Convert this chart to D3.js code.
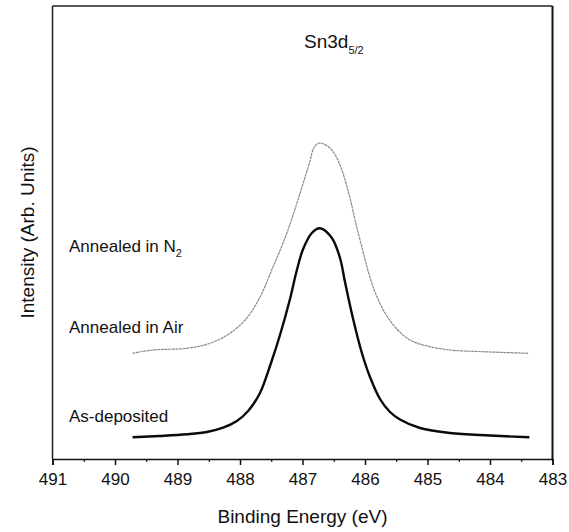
<!DOCTYPE html>
<html>
<head>
<meta charset="utf-8">
<script src="https://cdn.jsdelivr.net/npm/d3@7"></script>
<style>
  body { margin: 0; background: #fff; }
  svg { font-family: "Liberation Sans", Arial, sans-serif; }
</style>
</head>
<body>
<svg id="canvas" width="569" height="532"></svg>
<script>
// binding energy (eV)
let asDepEnergy = [489.72, 489.28, 488.85, 488.53, 488.27, 488.05, 487.87, 487.68, 487.52, 487.36, 487.20, 487.09, 486.99, 486.85, 486.72, 486.53, 486.40, 486.32, 486.19, 486.05, 485.92, 485.76, 485.60, 485.44, 485.12, 484.64, 484.00, 483.37]
let asDepIntensity = [21.7, 23, 24.7, 27, 31.3, 38, 48, 66, 93, 124, 160, 189, 210, 226, 230.7, 221, 201, 177, 140, 106, 82, 60, 47, 39.5, 31, 26, 23.5, 21.7]

let airEnergy = [489.72, 489.39, 488.85, 488.48, 488.16, 487.89, 487.68, 487.47, 487.25, 487.04, 486.88, 486.82, 486.75, 486.66, 486.53, 486.40, 486.24, 486.16, 486.05, 485.95, 485.84, 485.68, 485.49, 485.28, 485.01, 484.64, 484.11, 483.39]
let airIntensity = [105.7, 109, 110.7, 115.7, 125.7, 141, 162, 192.3, 226, 265.7, 298, 311, 315.7, 315, 309, 294, 261, 239, 212, 188, 167, 146, 130, 119, 113, 109, 107.3, 105.7]

let xTicks = [491, 490, 489, 488, 487, 486, 485, 484, 483]
let xMinorTicks = [490.5, 489.5, 488.5, 487.5, 486.5, 485.5, 484.5, 483.5]

let labels = [
    {text: 'Annealed in N', sub: '2', y: 207},
    {text: 'Annealed in Air', sub: '', y: 126},
    {text: 'As-deposited', sub: '', y: 37}
]

let canvas = d3.select('#canvas')

let plotLeft = 52.5, plotRight = 552.5, plotTop = 6, plotBottom = 459

let xScale = d3.scaleLinear().domain([491, 483]).range([plotLeft, plotRight])
let yScale = d3.scaleLinear().domain([0, 453]).range([plotBottom, plotTop])

// frame
canvas.append('line').attr('x1', plotLeft).attr('x2', plotRight).attr('y1', plotTop).attr('y2', plotTop)
    .attr('stroke', '#222').attr('stroke-width', 1.5)
canvas.append('line').attr('x1', plotLeft).attr('x2', plotLeft).attr('y1', plotTop).attr('y2', plotBottom)
    .attr('stroke', '#222').attr('stroke-width', 1.5)
canvas.append('line').attr('x1', plotRight).attr('x2', plotRight).attr('y1', plotTop).attr('y2', plotBottom)
    .attr('stroke', '#111').attr('stroke-width', 2)

let xAxis = d3.axisBottom(xScale)
    .tickValues(xTicks)
    .tickSize(6)
    .tickPadding(8)
    .tickFormat(d3.format('d'))

let axisG = canvas.append('g')
    .attr('transform', 'translate(0,' + plotBottom + ')')
    .call(xAxis)
axisG.select('.domain').attr('stroke', '#111').attr('stroke-width', 1.5)
axisG.selectAll('.tick line').attr('stroke', '#111').attr('stroke-width', 1.5)
axisG.selectAll('.tick text')
    .attr('font-size', 17)
    .attr('font-family', '"Liberation Sans", Arial, sans-serif')
    .attr('fill', '#111')

canvas.append('g')
    .attr('transform', 'translate(0,' + plotBottom + ')')
    .call(d3.axisBottom(xScale).tickValues(xMinorTicks).tickSize(3).tickFormat(''))
    .call(g => g.select('.domain').remove())
    .selectAll('.tick line').attr('stroke', '#111').attr('stroke-width', 1.2)

// curves
let line = d3.line()
    .x(d => xScale(d[0]))
    .y(d => yScale(d[1]))
    .curve(d3.curveCatmullRom.alpha(0.5))

canvas.append('path')
    .datum(d3.zip(airEnergy, airIntensity))
    .attr('d', line)
    .attr('fill', 'none')
    .attr('stroke', '#8a8a8a')
    .attr('stroke-width', 1.2)
    .attr('stroke-dasharray', '3,0.6')

canvas.append('path')
    .datum(d3.zip(asDepEnergy, asDepIntensity))
    .attr('d', line)
    .attr('fill', 'none')
    .attr('stroke', '#0a0a0a')
    .attr('stroke-width', 2.4)

// labels
labels.forEach((l) => {
    let t = canvas.append('text')
        .attr('x', 69)
        .attr('y', yScale(l.y))
        .attr('font-size', 17)
        .attr('fill', '#111')
        .text(l.text)
    if (l.sub) {
        t.append('tspan').attr('font-size', 11).attr('dy', 5).text(l.sub)
    }
})

let title = canvas.append('text')
    .attr('x', 304)
    .attr('y', 48)
    .attr('font-size', 19)
    .attr('fill', '#111')
    .text('Sn3d')
title.append('tspan').attr('font-size', 11).attr('dy', 6).text('5/2')

canvas.append('text')
    .attr('x', (plotLeft + plotRight) / 2)
    .attr('y', 523)
    .attr('text-anchor', 'middle')
    .attr('font-size', 19)
    .attr('fill', '#111')
    .text('Binding Energy (eV)')

canvas.append('text')
    .attr('transform', 'translate(34,' + (plotTop + plotBottom) / 2 + ') rotate(-90)')
    .attr('text-anchor', 'middle')
    .attr('font-size', 19)
    .attr('fill', '#111')
    .text('Intensity (Arb. Units)')
</script>
</body>
</html>
